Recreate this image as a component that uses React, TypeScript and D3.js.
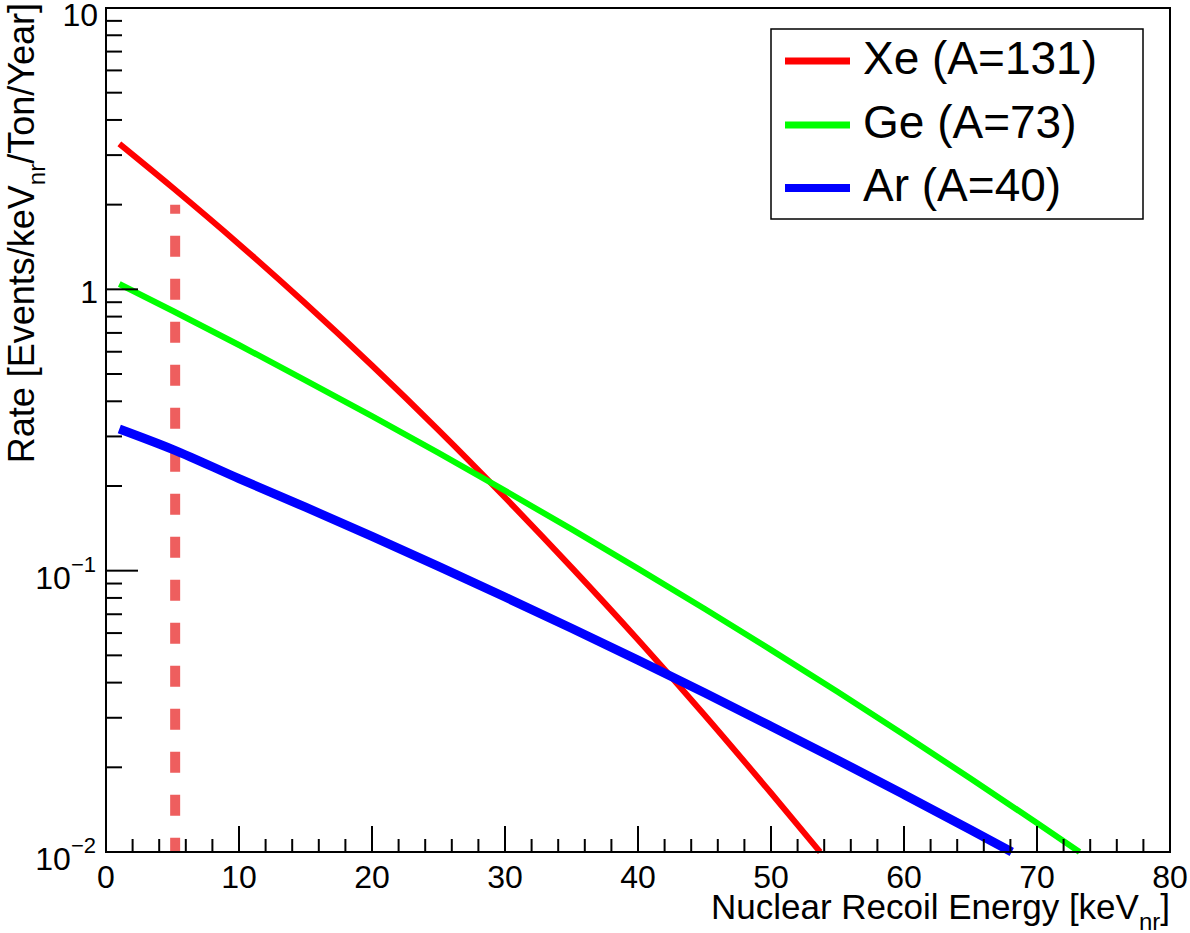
import React from "react";
import * as d3 from "d3";

// Recoil energy grid [keV_nr] and differential rates [events/keV_nr/ton/year]
const xeEnergy = [1, 5, 10, 15, 20, 25, 30, 35, 40, 45, 50, 53.7];
const xeRate = [3.29, 2.30, 1.447, 0.89, 0.536, 0.316, 0.182, 0.1027, 0.0568, 0.0307, 0.0162, 0.01];

const geEnergy = [1, 5, 10, 15, 20, 25, 30, 35, 40, 45, 50, 55, 60, 65, 70, 73.2];
const geRate = [1.045, 0.839, 0.634, 0.475, 0.354, 0.262, 0.1925, 0.1404, 0.1017, 0.0732, 0.0523, 0.0371, 0.0261, 0.01825, 0.01268, 0.01];

const arEnergy = [1, 5, 10, 15, 20, 25, 30, 35, 40, 45, 50, 55, 60, 65, 68.1];
const arRate = [0.319, 0.27, 0.2124, 0.1681, 0.1323, 0.1036, 0.0806, 0.0624, 0.0481, 0.0368, 0.028, 0.02125, 0.016, 0.012, 0.01];

// Threshold marker
const thresholdEnergy = 5.2;
const thresholdTop = 2.0;

const xTicks = [0, 10, 20, 30, 40, 50, 60, 70, 80];
const yDecades = [0.01, 0.1, 1, 10];

const seriesLabels = ["Xe (A=131)", "Ge (A=73)", "Ar (A=40)"];
const seriesColors = ["#ff0000", "#00ff00", "#0000ff"];
const seriesWidths = [6, 6, 9];

const FONT = "'Liberation Sans', Arial, Helvetica, sans-serif";

export default function App() {
  const W = 1190;
  const H = 933;
  const left = 106;
  const right = 1170;
  const top = 8;
  const bottom = 852;

  const x = d3.scaleLinear().domain([0, 80]).range([left, right]);
  const y = d3.scaleLog().domain([0.01, 10]).range([bottom, top]);

  const line = d3
    .line<[number, number]>()
    .x((d) => x(d[0]))
    .y((d) => y(d[1]))
    .curve(d3.curveMonotoneX);

  const series = [
    d3.zip(xeEnergy, xeRate) as [number, number][],
    d3.zip(geEnergy, geRate) as [number, number][],
    d3.zip(arEnergy, arRate) as [number, number][],
  ];

  // minor x ticks every 2 units
  const xMinor = d3.range(0, 80.01, 2).filter((v) => v % 10 !== 0);
  // minor y ticks 2..9 in each decade
  const yMinor: number[] = [];
  for (const dec of [0.01, 0.1, 1]) {
    for (let k = 2; k <= 9; k++) yMinor.push(dec * k);
  }

  const yLabel = (v: number) => {
    if (v === 1) return { base: "1", exp: null };
    if (v === 10) return { base: "10", exp: null };
    return { base: "10", exp: v === 0.1 ? "\u22121" : "\u22122" };
  };

  return (
    <svg width={W} height={H} style={{ position: "absolute", left: 0, top: 0, background: "#fff" }} fontFamily={FONT}>
      <rect x={0} y={0} width={W} height={H} fill="#fff" />

      {/* threshold line, drawn from the top down */}
      <line
        x1={x(thresholdEnergy)}
        x2={x(thresholdEnergy)}
        y1={y(thresholdTop)}
        y2={y(0.01)}
        stroke="#ee5e5e"
        strokeWidth={10}
        strokeDasharray="21 22"
        strokeDashoffset={12}
      />

      {/* rate curves */}
      {series.map((s, i) => (
        <path
          key={i}
          d={line(s) || ""}
          fill="none"
          stroke={seriesColors[i]}
          strokeWidth={seriesWidths[i]}
          strokeLinejoin="round"
        />
      ))}

      {/* frame */}
      <rect x={left} y={top} width={right - left} height={bottom - top} fill="none" stroke="#000" strokeWidth={2} />

      {/* x ticks */}
      {xTicks.map((t) => (
        <g key={"xt" + t}>
          <line x1={x(t)} x2={x(t)} y1={bottom} y2={bottom - 26} stroke="#000" strokeWidth={2} />
          <text x={x(t)} y={888} fontSize={32} textAnchor="middle" fill="#000">
            {t}
          </text>
        </g>
      ))}
      {xMinor.map((t) => (
        <line key={"xm" + t} x1={x(t)} x2={x(t)} y1={bottom} y2={bottom - 13} stroke="#000" strokeWidth={2} />
      ))}

      {/* y ticks */}
      {yDecades.map((t) => {
        const lab = yLabel(t);
        return (
          <g key={"yt" + t}>
            <line x1={left} x2={left + 32} y1={y(t)} y2={y(t)} stroke="#000" strokeWidth={2} />
            {lab.exp === null ? (
              <text x={98} y={Math.max(y(t) + 14, 26)} fontSize={32} textAnchor="end" fill="#000">
                {lab.base}
              </text>
            ) : (
              <text x={96} y={y(t) + 18} fontSize={32} textAnchor="end" fill="#000">
                {lab.base}
                <tspan fontSize={22} dy={-17}>
                  {lab.exp}
                </tspan>
              </text>
            )}
          </g>
        );
      })}
      {yMinor.map((t, i) => (
        <line key={"ym" + i} x1={left} x2={left + 16} y1={y(t)} y2={y(t)} stroke="#000" strokeWidth={2} />
      ))}

      {/* axis titles */}
      <text x={1170} y={919} fontSize={35} textAnchor="end" fill="#000">
        Nuclear Recoil Energy [keV
        <tspan fontSize={24} dy={11}>
          nr
        </tspan>
        <tspan dy={-11}>]</tspan>
      </text>
      <text transform="translate(34,3) rotate(-90)" fontSize={36} textAnchor="end" fill="#000">
        Rate [Events/keV
        <tspan fontSize={24} dy={11}>
          nr
        </tspan>
        <tspan dy={-11}>/Ton/Year]</tspan>
      </text>

      {/* legend */}
      <rect x={771} y={29} width={372} height={190} fill="#fff" stroke="#000" strokeWidth={1.5} />
      {seriesLabels.map((lab, i) => {
        const cy = [61, 125, 188][i];
        return (
          <g key={lab}>
            <line x1={785} x2={850} y1={cy} y2={cy} stroke={seriesColors[i]} strokeWidth={i === 2 ? 8 : 7} />
            <text x={863} y={cy + 13} fontSize={46} fill="#000">
              {lab}
            </text>
          </g>
        );
      })}
    </svg>
  );
}
